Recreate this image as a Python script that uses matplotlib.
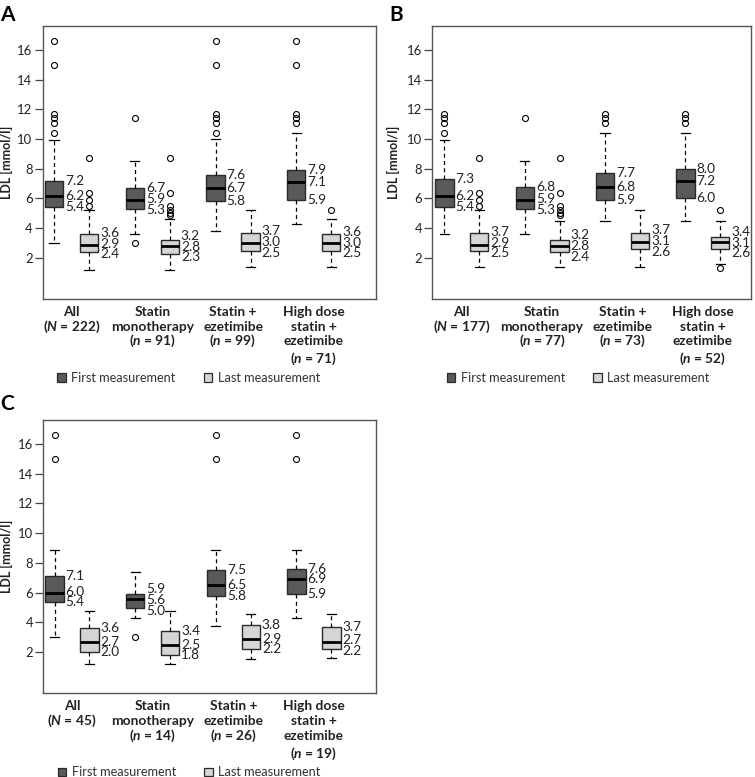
import matplotlib
matplotlib.use("Agg")
import matplotlib.pyplot as plt
from matplotlib.patches import Patch
from matplotlib.transforms import blended_transform_factory
import numpy as np

plt.rcParams['font.family'] = ['Lato', 'DejaVu Sans']
plt.rcParams['mathtext.fontset'] = 'custom'
plt.rcParams['mathtext.it'] = 'Lato:italic:bold'
plt.rcParams['mathtext.rm'] = 'Lato:bold'

# ---------------- data ----------------
categories = [["All"], ["Statin", "monotherapy"], ["Statin +", "ezetimibe"],
              ["High dose", "statin +", "ezetimibe"]]
n_symbol = ["N", "n", "n", "n"]
yticks = [2, 4, 6, 8, 10, 12, 14, 16]

# Panel A
A_n = [222, 91, 99, 71]
A_first_q1 = [5.4, 5.3, 5.8, 5.9]
A_first_med = [6.2, 5.9, 6.7, 7.1]
A_first_q3 = [7.2, 6.7, 7.6, 7.9]
A_first_lo = [3.0, 3.6, 3.8, 4.3]
A_first_hi = [9.9, 8.5, 10.0, 10.4]
A_first_out = [[10.4, 11.1, 11.4, 11.7, 15.0, 16.6], [3.0, 11.4],
               [10.4, 11.1, 11.4, 11.7, 15.0, 16.6], [11.1, 11.4, 11.7, 15.0, 16.6]]
A_last_q1 = [2.4, 2.3, 2.5, 2.5]
A_last_med = [2.9, 2.8, 3.0, 3.0]
A_last_q3 = [3.6, 3.2, 3.7, 3.6]
A_last_lo = [1.2, 1.2, 1.4, 1.4]
A_last_hi = [5.2, 4.6, 5.2, 4.6]
A_last_out = [[5.5, 5.9, 6.4, 8.7], [4.9, 5.05, 5.2, 5.5, 6.4, 8.7], [], [5.2]]

# Panel B
B_n = [177, 77, 73, 52]
B_first_q1 = [5.4, 5.3, 5.9, 6.0]
B_first_med = [6.2, 5.9, 6.8, 7.2]
B_first_q3 = [7.3, 6.8, 7.7, 8.0]
B_first_lo = [3.6, 3.6, 4.5, 4.5]
B_first_hi = [9.9, 8.5, 10.4, 10.4]
B_first_out = [[10.4, 11.1, 11.4, 11.7], [11.4], [11.1, 11.4, 11.7], [11.1, 11.4, 11.7]]
B_last_q1 = [2.5, 2.4, 2.6, 2.6]
B_last_med = [2.9, 2.8, 3.1, 3.1]
B_last_q3 = [3.7, 3.2, 3.7, 3.4]
B_last_lo = [1.4, 1.4, 1.4, 1.6]
B_last_hi = [5.2, 4.5, 5.2, 4.5]
B_last_out = [[5.5, 5.9, 6.4, 8.7], [4.9, 5.05, 5.2, 5.5, 6.4, 8.7], [], [1.3, 5.2]]

# Panel C
C_n = [45, 14, 26, 19]
C_first_q1 = [5.4, 5.0, 5.8, 5.9]
C_first_med = [6.0, 5.6, 6.5, 6.9]
C_first_q3 = [7.1, 5.9, 7.5, 7.6]
C_first_lo = [3.0, 4.3, 3.75, 4.3]
C_first_hi = [8.9, 7.4, 8.9, 8.9]
C_first_out = [[15.0, 16.6], [3.0], [15.0, 16.6], [15.0, 16.6]]
C_last_q1 = [2.0, 1.8, 2.2, 2.2]
C_last_med = [2.7, 2.5, 2.9, 2.7]
C_last_q3 = [3.6, 3.4, 3.8, 3.7]
C_last_lo = [1.2, 1.2, 1.55, 1.6]
C_last_hi = [4.8, 4.8, 4.6, 4.6]
C_last_out = [[], [], [], []]

legend_labels = ["First measurement", "Last measurement"]

# ---------------- style ----------------
DARK = '#5a5a5a'
LIGHT = '#d5d5d5'
EDGE = '#2a2a2a'
TXT = '#222222'
W, H = 755, 777


def ax_rect(l, r, t, b):
    return [l / W, 1 - b / H, (r - l) / W, (b - t) / H]


def make_stats(lo, q1, med, q3, hi, out):
    return [dict(whislo=lo[i], q1=q1[i], med=med[i], q3=q3[i], whishi=hi[i],
                 fliers=out[i]) for i in range(len(med))]


def spread(vals, g=0.72):
    y = list(vals)
    for _ in range(60):
        for i in range(len(y) - 1):
            d = y[i] - y[i + 1]
            if d < g:
                s = (g - d) / 2
                y[i] += s
                y[i + 1] -= s
    return y


fig = plt.figure(figsize=(W / 100, H / 100), dpi=100)

panels = [
    ('A', ax_rect(42.7, 376, 26, 299), (-0.356, 3.77), A_n,
     (A_first_lo, A_first_q1, A_first_med, A_first_q3, A_first_hi, A_first_out),
     (A_last_lo, A_last_q1, A_last_med, A_last_q3, A_last_hi, A_last_out),
     (0, 15), -0.089),
    ('B', ax_rect(432.3, 751, 26, 299), (-0.367, 3.60), B_n,
     (B_first_lo, B_first_q1, B_first_med, B_first_q3, B_first_hi, B_first_out),
     (B_last_lo, B_last_q1, B_last_med, B_last_q3, B_last_hi, B_last_out),
     (389, 15), -0.101),
    ('C', ax_rect(43.3, 376, 420, 693.3), (-0.356, 3.77), C_n,
     (C_first_lo, C_first_q1, C_first_med, C_first_q3, C_first_hi, C_first_out),
     (C_last_lo, C_last_q1, C_last_med, C_last_q3, C_last_hi, C_last_out),
     (0, 404), -0.091),
]

off = 0.2165
bw = 0.227
px2pt = 0.72

for letter, rect, xlim, ns, first, last, lpos, ylab_x in panels:
    ax = fig.add_axes(rect)
    x = np.arange(4)
    for series, pos, fc in ((first, x - off, DARK), (last, x + off, LIGHT)):
        stats = make_stats(*series)
        ax.bxp(stats, positions=pos, widths=bw, capwidths=0.115, patch_artist=True,
               showfliers=True, manage_ticks=False,
               boxprops=dict(facecolor=fc, edgecolor=EDGE, linewidth=1.0),
               medianprops=dict(color='black', linewidth=2.0),
               whiskerprops=dict(color='black', linestyle=(0, (3.2, 2.6)), linewidth=0.9),
               capprops=dict(color='black', linewidth=0.9),
               flierprops=dict(marker='o', markerfacecolor='none', markeredgecolor='black',
                               markersize=4.3, markeredgewidth=0.8))
        lo, q1, med, q3, hi, out = series
        for i in range(4):
            ys = spread([q3[i], med[i], q1[i]])
            for v, yy in zip([q3[i], med[i], q1[i]], ys):
                ax.annotate(f"{v:.1f}", xy=(pos[i] + bw / 2, yy), xytext=(1.4, 0),
                            textcoords='offset points', ha='left', va='center',
                            fontsize=9.8, color=TXT)
    ax.set_xlim(*xlim)
    ax.set_ylim(-0.76, 17.6)
    ax.set_yticks(yticks)
    ax.set_yticklabels([str(t) for t in yticks])
    ax.set_xticks([])
    ax.tick_params(axis='y', length=5.8, width=0.9, pad=1.5, labelsize=9.4,
                   colors='#444444', labelcolor=TXT)
    for s in ax.spines.values():
        s.set_color('#555555')
        s.set_linewidth(1.0)
    ax.set_ylabel('LDL [mmol/l]', fontweight='bold', fontsize=9.0, color=TXT)
    ax.yaxis.set_label_coords(ylab_x, 0.5)

    trans = blended_transform_factory(ax.transData, ax.transAxes)
    for i, lines in enumerate(categories):
        offs = [13 + 14.65 * k for k in range(len(lines))]
        for k, line in enumerate(lines):
            ax.annotate(line, xy=(x[i], 0), xycoords=trans, xytext=(0, -offs[k] * px2pt),
                        textcoords='offset points', ha='center', va='center',
                        fontweight='bold', fontsize=9.9, color=TXT, annotation_clip=False)
        gap = 18 if len(lines) >= 3 else 14.65
        nl = r"($\mathit{%s}$ = %d)" % (n_symbol[i], ns[i])
        ax.annotate(nl, xy=(x[i], 0), xycoords=trans,
                    xytext=(0, -(offs[-1] + gap) * px2pt),
                    textcoords='offset points', ha='center', va='center',
                    fontweight='bold', fontsize=9.9, color=TXT, annotation_clip=False)

    height_px = rect[3] * H
    width_px = rect[2] * W
    leg_y = -(79 / height_px)
    leg_x = (14.5) / width_px
    handles = [Patch(facecolor=DARK, edgecolor=EDGE, linewidth=0.9, label=legend_labels[0]),
               Patch(facecolor=LIGHT, edgecolor=EDGE, linewidth=0.9, label=legend_labels[1])]
    ax.legend(handles=handles, loc='center left', bbox_to_anchor=(leg_x, leg_y), ncol=2,
              frameon=False, handlelength=0.65, handleheight=0.65, handletextpad=0.45,
              columnspacing=2.2, fontsize=9.2, borderpad=0, borderaxespad=0,
              labelcolor='#333333')

    fig.text(lpos[0] / W, 1 - lpos[1] / H, letter, fontsize=15, fontweight='bold',
             ha='left', va='center', color='black')

fig.savefig('out.png', dpi=100)
